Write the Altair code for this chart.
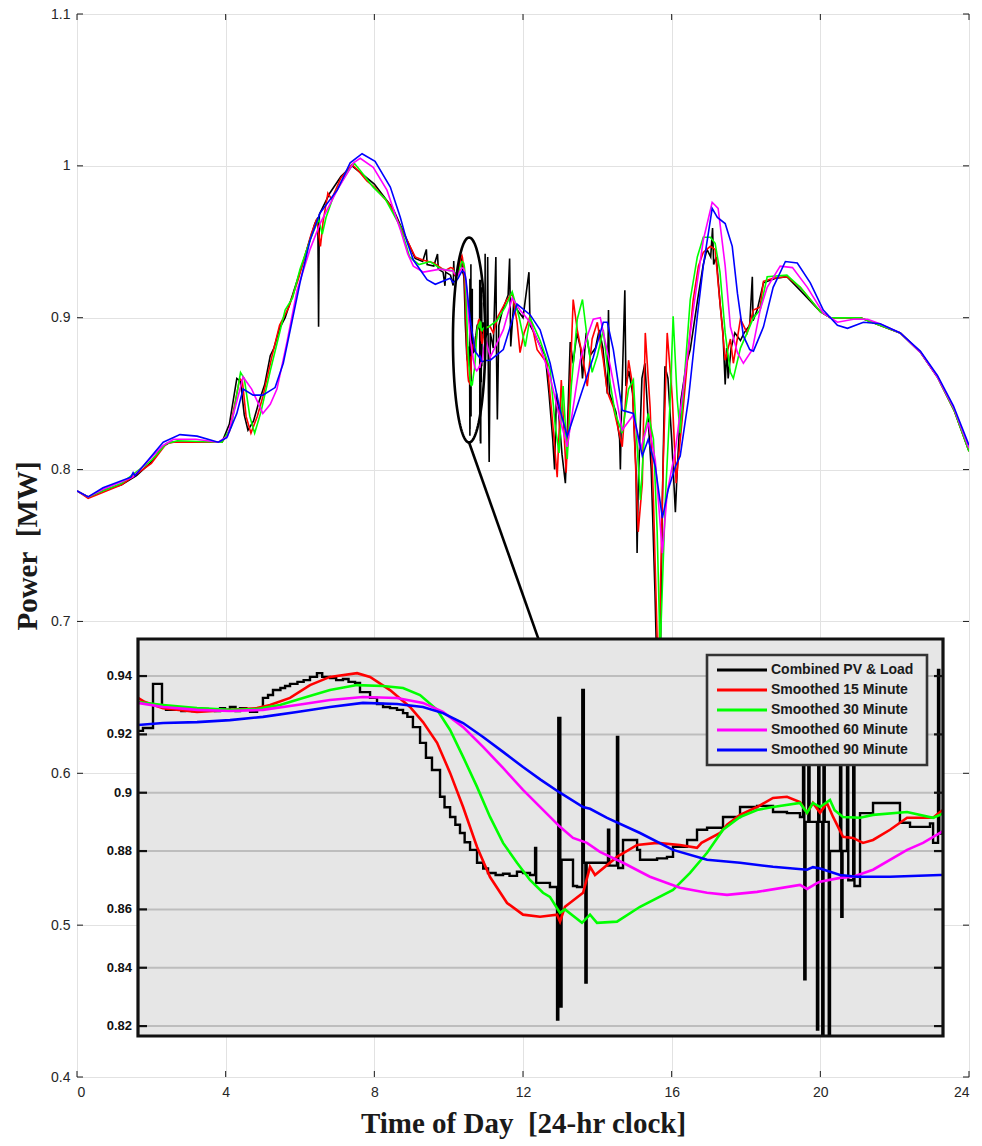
import numpy as np
import pandas as pd
import altair as alt

# ---------------------------------------------------------------- layout
W, H = 892, 1063                      # main plot area (px)
TICK_FONT = "Liberation Sans Narrow, Liberation Sans, Arial"
LABEL_FONT = "Liberation Sans, Arial"
TITLE_FONT = "Liberation Serif, Times New Roman"

SERIES = ["Combined PV & Load", "Smoothed 15 Minute", "Smoothed 30 Minute",
          "Smoothed 60 Minute", "Smoothed 90 Minute"]
COLORS = ["#000000", "#ff0000", "#00ff00", "#ff00ff", "#0000ff"]

X_TICKS = [0, 4, 8, 12, 16, 20, 24]
Y_TICKS = [0.4, 0.5, 0.6, 0.7, 0.8, 0.9, 1.0, 1.1]
INSET_TICKS = [0.82, 0.84, 0.86, 0.88, 0.90, 0.92, 0.94]

X_TITLE = "Time of Day\u00a0\u00a0[24-hr clock]"
Y_TITLE = "Power\u00a0\u00a0[MW]"

# zoomed window: minutes after ZOOM_START_HR
ZOOM_START_HR = 10.12
ZOOM_SPAN_MIN = 52
INSET_V_RANGE = [0.8166, 0.9527]
INSET_X_PX = [61, 866]                # inset box inside the plot area
INSET_Y_PX = [1022, 625]

# highlight ellipse around the zoomed window, and connector to the inset
ELLIPSE_CENTER = (10.55, 0.8853)
ELLIPSE_RADII = (0.435, 0.0675)
CONNECTOR = [(10.55, 0.8178), (12.41, 0.6888)]

# ---------------------------------------------------------------- data: full day (hours, MW)
BLACK_PRE = [(0.0, 0.786), (0.3, 0.782), (0.8, 0.787), (1.2, 0.790), (1.6, 0.796), (2.0, 0.805),
             (2.3, 0.815), (2.5, 0.818), (3.0, 0.818), (3.5, 0.818), (3.9, 0.818), (4.1, 0.830),
             (4.3, 0.860), (4.4, 0.858), (4.5, 0.836), (4.6, 0.826), (4.75, 0.832), (4.9, 0.845),
             (5.05, 0.856), (5.2, 0.875), (5.3, 0.880), (5.45, 0.893), (5.6, 0.900), (5.8, 0.915),
             (6.1, 0.938), (6.4, 0.962), (6.48, 0.966), (6.5, 0.894), (6.52, 0.968), (6.8, 0.982),
             (7.1, 0.993), (7.4, 1.000), (7.7, 0.994), (8.0, 0.988), (8.5, 0.972), (8.9, 0.950),
             (9.1, 0.939), (9.3, 0.937), (9.4, 0.945), (9.42, 0.935), (9.6, 0.934), (9.7, 0.942),
             (9.72, 0.932), (9.85, 0.930), (9.9, 0.921), (9.92, 0.930), (10.05, 0.928)]
BLACK_POST = [(10.99, 0.886), (11.03, 0.890), (11.05, 0.940), (11.07, 0.850), (11.09, 0.805),
              (11.12, 0.890), (11.2, 0.880), (11.27, 0.940), (11.29, 0.870), (11.31, 0.833),
              (11.35, 0.895), (11.45, 0.905), (11.6, 0.915), (11.64, 0.939), (11.67, 0.881),
              (11.75, 0.910), (11.85, 0.905), (12.0, 0.900), (12.16, 0.930), (12.19, 0.895),
              (12.3, 0.890), (12.45, 0.882), (12.6, 0.875), (12.7, 0.850), (12.8, 0.820),
              (12.85, 0.800), (12.9, 0.850), (12.95, 0.840), (13.05, 0.810), (13.14, 0.791),
              (13.2, 0.830), (13.27, 0.884), (13.35, 0.870), (13.45, 0.890), (13.55, 0.880),
              (13.6, 0.860), (13.7, 0.890), (13.8, 0.875), (13.95, 0.880), (14.05, 0.892),
              (14.15, 0.880), (14.27, 0.850), (14.3, 0.905), (14.33, 0.850), (14.4, 0.845),
              (14.5, 0.838), (14.6, 0.820), (14.62, 0.800), (14.65, 0.840), (14.74, 0.918),
              (14.77, 0.855), (14.85, 0.865), (14.95, 0.850), (15.04, 0.800), (15.07, 0.745),
              (15.1, 0.790), (15.2, 0.860), (15.28, 0.870), (15.35, 0.840), (15.45, 0.800),
              (15.55, 0.720), (15.6, 0.670), (15.7, 0.680), (15.75, 0.780), (15.82, 0.868),
              (15.9, 0.860), (16.0, 0.820), (16.1, 0.772), (16.15, 0.800), (16.25, 0.846),
              (16.4, 0.870), (16.5, 0.879), (16.7, 0.912), (16.85, 0.935), (16.95, 0.945),
              (17.05, 0.940), (17.1, 0.959), (17.13, 0.935), (17.2, 0.940), (17.3, 0.910),
              (17.38, 0.890), (17.44, 0.856), (17.48, 0.880), (17.52, 0.860), (17.6, 0.880),
              (17.7, 0.890), (17.85, 0.885), (17.95, 0.890), (18.1, 0.895), (18.17, 0.927),
              (18.19, 0.898), (18.3, 0.905), (18.47, 0.923), (18.8, 0.926), (19.1, 0.927),
              (19.46, 0.918), (20.0, 0.904), (20.27, 0.900), (21.08, 0.900), (21.6, 0.895),
              (22.15, 0.890), (22.7, 0.877), (23.15, 0.861), (23.6, 0.839), (24.0, 0.812)]

RED_PRE = [(0.0, 0.786), (0.3, 0.781), (1.2, 0.790), (2.0, 0.804), (2.4, 0.817), (2.6, 0.818),
           (3.9, 0.818), (4.1, 0.825), (4.38, 0.860), (4.45, 0.858), (4.55, 0.835), (4.68, 0.824),
           (4.85, 0.835), (5.0, 0.848), (5.25, 0.875), (5.45, 0.895), (5.7, 0.907), (5.95, 0.925),
           (6.3, 0.955), (6.45, 0.965), (6.55, 0.947), (6.62, 0.963), (6.75, 0.982), (6.85, 0.978),
           (7.1, 0.992), (7.4, 1.001), (7.6, 0.996), (7.8, 0.990), (8.0, 0.986), (8.4, 0.975),
           (8.8, 0.955), (9.1, 0.940), (9.3, 0.938), (9.6, 0.936), (9.9, 0.931), (10.05, 0.933)]
RED_POST = [(11.12, 0.894), (11.2, 0.890), (11.33, 0.901), (11.57, 0.912), (11.71, 0.916),
            (11.84, 0.897), (11.92, 0.877), (12.03, 0.890), (12.19, 0.901), (12.38, 0.879),
            (12.65, 0.870), (12.79, 0.833), (12.92, 0.795), (13.03, 0.859), (13.16, 0.798),
            (13.27, 0.859), (13.35, 0.912), (13.46, 0.892), (13.62, 0.872), (13.73, 0.855),
            (13.86, 0.886), (14.0, 0.897), (14.16, 0.872), (14.27, 0.851), (14.43, 0.841),
            (14.67, 0.815), (14.84, 0.872), (14.94, 0.857), (15.1, 0.759), (15.21, 0.791),
            (15.29, 0.890), (15.42, 0.841), (15.51, 0.780), (15.62, 0.680), (15.66, 0.680),
            (15.77, 0.802), (15.88, 0.890), (16.02, 0.846), (16.12, 0.791), (16.29, 0.835),
            (16.45, 0.879), (16.58, 0.912), (16.72, 0.934), (16.85, 0.943), (17.04, 0.947),
            (17.17, 0.945), (17.25, 0.923), (17.36, 0.894), (17.44, 0.872), (17.58, 0.886),
            (17.66, 0.870), (17.85, 0.899), (18.03, 0.890), (18.2, 0.905), (18.38, 0.907),
            (18.47, 0.924), (18.73, 0.926), (19.1, 0.927), (19.46, 0.920), (20.0, 0.904),
            (20.27, 0.900), (21.08, 0.900), (21.6, 0.895), (22.15, 0.890), (22.7, 0.877),
            (23.15, 0.861), (23.6, 0.839), (24.0, 0.812)]

GREEN_PRE = [(0.0, 0.786), (0.3, 0.782), (1.2, 0.791), (2.0, 0.806), (2.4, 0.817), (2.7, 0.819),
             (3.9, 0.818), (4.15, 0.828), (4.4, 0.864), (4.5, 0.860), (4.65, 0.835), (4.78, 0.824),
             (4.95, 0.838), (5.2, 0.865), (5.4, 0.885), (5.6, 0.905), (5.8, 0.913), (6.0, 0.932),
             (6.3, 0.953), (6.5, 0.965), (6.6, 0.955), (6.7, 0.966), (6.9, 0.980), (7.2, 0.993),
             (7.45, 1.002), (7.62, 0.997), (7.97, 0.986), (8.3, 0.978), (8.7, 0.960), (8.95, 0.940),
             (9.2, 0.935), (9.5, 0.937), (9.8, 0.932), (10.05, 0.931)]
GREEN_POST = [(11.07, 0.894), (11.3, 0.898), (11.52, 0.907), (11.71, 0.917), (11.9, 0.900),
              (12.06, 0.881), (12.19, 0.900), (12.46, 0.885), (12.73, 0.866), (12.87, 0.828),
              (12.97, 0.811), (13.08, 0.855), (13.19, 0.807), (13.3, 0.855), (13.46, 0.899),
              (13.6, 0.912), (13.73, 0.886), (13.86, 0.864), (14.0, 0.875), (14.16, 0.892),
              (14.27, 0.868), (14.48, 0.837), (14.67, 0.824), (14.84, 0.853), (14.97, 0.859),
              (15.05, 0.824), (15.16, 0.780), (15.27, 0.824), (15.37, 0.837), (15.51, 0.820),
              (15.61, 0.759), (15.69, 0.680), (15.83, 0.780), (15.96, 0.846), (16.04, 0.901),
              (16.15, 0.846), (16.23, 0.824), (16.36, 0.866), (16.5, 0.912), (16.69, 0.940),
              (16.85, 0.953), (17.04, 0.953), (17.17, 0.949), (17.3, 0.930), (17.44, 0.890),
              (17.58, 0.864), (17.66, 0.860), (17.85, 0.880), (18.03, 0.890), (18.2, 0.900),
              (18.38, 0.905), (18.57, 0.927), (19.1, 0.928), (19.46, 0.920), (20.0, 0.904),
              (20.27, 0.900), (21.08, 0.900), (21.6, 0.895), (22.15, 0.890), (22.7, 0.877),
              (23.15, 0.861), (23.6, 0.839), (24.0, 0.812)]

MAGENTA_PRE = [(0.0, 0.786), (0.3, 0.782), (0.7, 0.787), (1.5, 0.795), (2.32, 0.816), (2.6, 0.820),
               (3.2, 0.820), (3.8, 0.818), (4.05, 0.822), (4.3, 0.845), (4.47, 0.861), (4.7, 0.853),
               (5.0, 0.837), (5.2, 0.843), (5.38, 0.853), (5.65, 0.884), (5.92, 0.918), (6.27, 0.945),
               (6.54, 0.962), (7.0, 0.984), (7.44, 1.002), (7.62, 1.005), (7.97, 0.999), (8.34, 0.984),
               (8.7, 0.958), (8.9, 0.942), (9.05, 0.934), (9.32, 0.930), (9.77, 0.932), (10.05, 0.931)]
MAGENTA_POST = [(11.12, 0.874), (11.47, 0.892), (11.71, 0.913), (11.92, 0.905), (12.19, 0.897),
                (12.46, 0.881), (12.73, 0.861), (13.0, 0.833), (13.19, 0.815), (13.35, 0.841),
                (13.54, 0.872), (13.73, 0.888), (13.89, 0.899), (14.08, 0.900), (14.35, 0.868),
                (14.67, 0.826), (14.97, 0.836), (15.16, 0.813), (15.37, 0.831), (15.56, 0.806),
                (15.75, 0.745), (15.88, 0.785), (16.1, 0.813), (16.32, 0.855), (16.58, 0.905),
                (16.85, 0.951), (17.09, 0.976), (17.25, 0.972), (17.44, 0.934), (17.58, 0.894),
                (17.77, 0.877), (17.93, 0.870), (18.17, 0.879), (18.38, 0.905), (18.57, 0.920),
                (18.92, 0.934), (19.25, 0.933), (19.65, 0.920), (20.08, 0.903), (20.46, 0.897),
                (20.89, 0.899), (21.27, 0.899), (21.6, 0.896), (22.15, 0.890), (22.7, 0.877),
                (23.15, 0.861), (23.6, 0.840), (24.0, 0.814)]

BLUE_PRE = [(0.0, 0.786), (0.3, 0.782), (0.7, 0.788), (1.45, 0.795), (1.51, 0.798), (1.56, 0.796),
            (2.32, 0.818), (2.77, 0.823), (3.23, 0.822), (3.8, 0.818), (4.03, 0.821), (4.3, 0.837),
            (4.47, 0.853), (4.74, 0.849), (5.0, 0.849), (5.33, 0.854), (5.55, 0.870), (5.78, 0.897),
            (6.0, 0.923), (6.27, 0.951), (6.54, 0.969), (7.0, 0.984), (7.35, 1.002), (7.67, 1.008),
            (8.02, 1.003), (8.43, 0.986), (8.7, 0.966), (8.88, 0.950), (9.05, 0.938), (9.42, 0.925),
            (9.64, 0.922), (10.04, 0.926)]
BLUE_POST = [(11.12, 0.872), (11.47, 0.879), (11.84, 0.909), (12.19, 0.902), (12.46, 0.892),
             (12.73, 0.870), (13.0, 0.839), (13.19, 0.822), (13.54, 0.848), (13.89, 0.874),
             (14.16, 0.897), (14.27, 0.897), (14.43, 0.879), (14.67, 0.839), (14.97, 0.837),
             (15.21, 0.809), (15.37, 0.820), (15.56, 0.802), (15.75, 0.768), (15.91, 0.787),
             (16.1, 0.802), (16.23, 0.809), (16.45, 0.846), (16.69, 0.901), (16.85, 0.934),
             (17.09, 0.972), (17.23, 0.966), (17.44, 0.962), (17.63, 0.947), (17.77, 0.916),
             (17.93, 0.888), (18.1, 0.879), (18.2, 0.878), (18.47, 0.894), (18.73, 0.920),
             (19.06, 0.937), (19.38, 0.936), (19.73, 0.923), (20.08, 0.905), (20.46, 0.895),
             (20.73, 0.893), (21.16, 0.897), (21.61, 0.896), (22.15, 0.890), (22.69, 0.878),
             (23.15, 0.862), (23.58, 0.842), (24.0, 0.816)]

# ---------------------------------------------------------------- data: zoomed window (minutes, MW)
ZOOM_BLACK = [(0.00, 0.9212), (0.32, 0.9222), (0.97, 0.9373), (1.55, 0.9297), (1.81, 0.9284),
              (2.39, 0.9287), (2.80, 0.9280), (3.04, 0.9287), (3.50, 0.9280), (4.00, 0.9287),
              (4.50, 0.9284), (4.97, 0.9280), (5.30, 0.9290), (5.62, 0.9284), (5.94, 0.9294),
              (6.30, 0.9280), (6.59, 0.9290), (7.00, 0.9284), (7.24, 0.9277), (7.69, 0.9290),
              (8.07, 0.9325), (8.40, 0.9335), (8.72, 0.9352), (9.20, 0.9359), (9.50, 0.9366),
              (9.82, 0.9373), (10.30, 0.9380), (10.70, 0.9386), (11.11, 0.9397), (11.56, 0.9410),
              (11.90, 0.9397), (12.40, 0.9393), (12.80, 0.9386), (13.24, 0.9390), (13.60, 0.9380),
              (14.02, 0.9376), (14.34, 0.9345), (14.99, 0.9325), (15.44, 0.9304), (15.83, 0.9294),
              (16.28, 0.9290), (16.73, 0.9284), (17.12, 0.9273), (17.40, 0.9260), (17.76, 0.9225),
              (18.22, 0.9171), (18.60, 0.9120), (18.99, 0.9078), (19.51, 0.8986), (19.80, 0.8950),
              (20.16, 0.8917), (20.50, 0.8890), (20.80, 0.8862), (21.10, 0.8830), (21.45, 0.8804),
              (21.90, 0.8760), (22.30, 0.8740), (22.61, 0.8725), (23.10, 0.8718), (23.58, 0.8722),
              (24.00, 0.8715), (24.48, 0.8729), (24.87, 0.8725), (25.32, 0.8718), (25.65, 0.8811),
              (25.72, 0.8691), (26.61, 0.8677), (27.07, 0.8222), (27.15, 0.9256), (27.28, 0.8267),
              (27.36, 0.8770), (28.10, 0.8680), (28.36, 0.8677), (28.70, 0.9352), (28.80, 0.8760),
              (28.90, 0.8349), (28.98, 0.8760), (30.30, 0.8750), (30.36, 0.8873), (30.44, 0.8750),
              (30.94, 0.9191), (31.02, 0.8742), (31.33, 0.8838), (32.24, 0.8804), (32.43, 0.8770),
              (33.53, 0.8775), (34.17, 0.8780), (34.56, 0.8815), (35.47, 0.8838), (36.11, 0.8873),
              (36.76, 0.8880), (37.79, 0.8917), (38.89, 0.8951), (39.99, 0.8955), (41.02, 0.8934),
              (41.92, 0.8930), (42.76, 0.8917), (42.96, 0.9250), (43.04, 0.8360), (43.12, 0.8900),
              (43.30, 0.9200), (43.38, 0.8900), (43.86, 0.8188), (43.94, 0.9100), (44.02, 0.8900),
              (44.20, 0.8171), (44.28, 0.9250), (44.36, 0.8900), (44.62, 0.8171), (44.70, 0.8800),
              (45.35, 0.9200), (45.43, 0.8575), (45.51, 0.8800), (45.80, 0.9150), (45.88, 0.8700),
              (46.20, 0.9100), (46.28, 0.8680), (46.64, 0.8930), (47.48, 0.8965), (48.58, 0.8965),
              (49.22, 0.8897), (49.87, 0.8883), (51.16, 0.8895), (51.36, 0.8828), (51.68, 0.9421),
              (51.76, 0.8860), (52.00, 0.8860)]

ZOOM_RED = [(0.00, 0.9325), (0.45, 0.9311), (1.62, 0.9290), (3.81, 0.9277), (5.94, 0.9284),
            (7.69, 0.9290), (8.53, 0.9301), (9.82, 0.9325), (11.11, 0.9369), (12.40, 0.9397),
            (14.15, 0.9410), (14.99, 0.9397), (16.28, 0.9352), (17.57, 0.9294), (18.41, 0.9242),
            (19.32, 0.9171), (20.16, 0.9068), (21.00, 0.8951), (21.90, 0.8814), (22.74, 0.8711),
            (23.84, 0.8622), (24.87, 0.8582), (25.97, 0.8575), (27.07, 0.8582), (27.26, 0.8558),
            (27.58, 0.8609), (28.75, 0.8657), (29.20, 0.8746), (29.52, 0.8718), (30.94, 0.8780),
            (32.24, 0.8821), (33.53, 0.8828), (35.01, 0.8821), (36.11, 0.8811), (36.40, 0.8828),
            (37.60, 0.8862), (38.05, 0.8890), (38.89, 0.8924), (39.99, 0.8951), (41.02, 0.8982),
            (41.92, 0.8986), (42.76, 0.8968), (43.22, 0.8931), (43.60, 0.8965), (44.06, 0.8931),
            (44.50, 0.8965), (44.90, 0.8917), (45.54, 0.8849), (46.19, 0.8845), (46.83, 0.8828),
            (47.48, 0.8838), (48.58, 0.8873), (49.68, 0.8914), (50.71, 0.8914), (51.36, 0.8914),
            (51.81, 0.8934), (52.00, 0.8940)]

ZOOM_GREEN = [(0.00, 0.9311), (1.62, 0.9301), (3.81, 0.9290), (5.94, 0.9284), (7.69, 0.9287),
              (9.17, 0.9301), (10.66, 0.9325), (12.40, 0.9352), (14.15, 0.9369), (15.83, 0.9366),
              (17.12, 0.9359), (18.22, 0.9335), (19.32, 0.9284), (20.16, 0.9215), (21.00, 0.9123),
              (21.90, 0.9020), (22.74, 0.8917), (23.58, 0.8828), (24.48, 0.8760), (25.32, 0.8701),
              (26.16, 0.8657), (26.61, 0.8643), (27.26, 0.8588), (27.58, 0.8600), (28.68, 0.8554),
              (29.20, 0.8582), (29.65, 0.8554), (30.94, 0.8558), (32.43, 0.8609), (34.56, 0.8667),
              (35.66, 0.8725), (36.76, 0.8794), (37.79, 0.8873), (38.89, 0.8917), (39.99, 0.8941),
              (41.02, 0.8951), (42.76, 0.8965), (43.22, 0.8931), (43.60, 0.8965), (44.06, 0.8951),
              (44.70, 0.8975), (45.00, 0.8940), (45.54, 0.8917), (46.64, 0.8914), (47.48, 0.8924),
              (49.68, 0.8934), (51.36, 0.8914), (51.81, 0.8924), (52.00, 0.8930)]

ZOOM_MAGENTA = [(0.00, 0.9308), (1.62, 0.9294), (3.81, 0.9284), (5.94, 0.9280), (8.07, 0.9284),
                (10.27, 0.9301), (12.40, 0.9318), (14.53, 0.9328), (16.73, 0.9325), (18.41, 0.9308),
                (19.70, 0.9277), (21.00, 0.9225), (22.29, 0.9157), (23.58, 0.9085), (24.87, 0.9010),
                (26.00, 0.8950), (27.26, 0.8883), (28.10, 0.8845), (29.00, 0.8828), (29.84, 0.8797),
                (31.33, 0.8760), (33.07, 0.8712), (35.01, 0.8674), (36.76, 0.8657), (38.05, 0.8650),
                (39.99, 0.8660), (42.76, 0.8684), (43.22, 0.8670), (43.86, 0.8690), (44.06, 0.8695),
                (45.35, 0.8708), (46.19, 0.8712), (47.48, 0.8736), (49.68, 0.8804), (50.71, 0.8828),
                (51.81, 0.8862), (52.00, 0.8868)]

ZOOM_BLUE = [(0.00, 0.9232), (1.62, 0.9239), (3.81, 0.9242), (5.94, 0.9249), (8.07, 0.9260),
             (10.27, 0.9277), (12.40, 0.9294), (14.53, 0.9308), (16.73, 0.9304), (18.41, 0.9294),
             (19.70, 0.9273), (21.00, 0.9239), (22.29, 0.9191), (23.58, 0.9140), (24.87, 0.9088),
             (26.00, 0.9045), (27.26, 0.9000), (28.75, 0.8951), (29.20, 0.8945), (30.30, 0.8914),
             (32.43, 0.8862), (34.56, 0.8804), (36.76, 0.8770), (38.89, 0.8760), (41.02, 0.8746),
             (43.22, 0.8736), (43.60, 0.8745), (44.06, 0.8740), (45.35, 0.8718), (46.45, 0.8712),
             (48.58, 0.8712), (51.81, 0.8718), (52.00, 0.8718)]

PRE = [BLACK_PRE, RED_PRE, GREEN_PRE, MAGENTA_PRE, BLUE_PRE]
ZOOM = [ZOOM_BLACK, ZOOM_RED, ZOOM_GREEN, ZOOM_MAGENTA, ZOOM_BLUE]
POST = [BLACK_POST, RED_POST, GREEN_POST, MAGENTA_POST, BLUE_POST]


def day_frame(pre, zoom, post):
    """Full-day series: zoom-window minutes converted to hours of day."""
    pts = list(pre) + [(ZOOM_START_HR + m / 60.0, v) for m, v in zoom] + list(post)
    df = pd.DataFrame(pts, columns=["t", "v"])
    df["i"] = np.arange(len(df))
    return df


def zoom_frame(zoom):
    df = pd.DataFrame(zoom, columns=["m", "iv"])
    df["i"] = np.arange(len(df))
    return df


# ---------------------------------------------------------------- main axes
x_main = alt.X(
    "t:Q",
    scale=alt.Scale(domain=[0, 24], nice=False, zero=False),
    axis=alt.Axis(values=X_TICKS, format="d", title=X_TITLE,
                  grid=True, gridColor="#e2e2e2", gridWidth=1, domain=False, ticks=False,
                  labelFont=TICK_FONT, labelFontSize=14, labelColor="#262626", labelPadding=8,
                  titleFont=TITLE_FONT, titleFontSize=29, titleFontWeight="bold",
                  titleColor="#1a1a1a", titlePadding=10),
)
y_main = alt.Y(
    "v:Q",
    scale=alt.Scale(domain=[0.4, 1.1], nice=False, zero=False),
    axis=alt.Axis(values=Y_TICKS, format="~g", title=Y_TITLE,
                  grid=True, gridColor="#e2e2e2", gridWidth=1, domain=False, ticks=False,
                  labelFont=TICK_FONT, labelFontSize=14, labelColor="#262626", labelPadding=7,
                  titleFont=TITLE_FONT, titleFontSize=29, titleFontWeight="bold",
                  titleColor="#1a1a1a", titlePadding=8),
)

main_layers = []
for k in range(len(SERIES)):
    df = day_frame(PRE[k], ZOOM[k], POST[k])
    main_layers.append(
        alt.Chart(df).mark_line(color=COLORS[k], strokeWidth=1.6, clip=True)
        .encode(x=x_main, y=y_main, order=alt.Order("i:Q"))
    )

# inward tick marks on all four sides of the frame
xt = pd.DataFrame({"t": X_TICKS})
yt = pd.DataFrame({"v": Y_TICKS})
tick_style = dict(color="#1a1a1a", strokeWidth=1)
ticks = [
    alt.Chart(xt).mark_rule(**tick_style).encode(x=x_main, y=alt.value(H), y2=alt.value(H - 6)),
    alt.Chart(xt).mark_rule(**tick_style).encode(x=x_main, y=alt.value(0), y2=alt.value(6)),
    alt.Chart(yt).mark_rule(**tick_style).encode(y=y_main, x=alt.value(0), x2=alt.value(6)),
    alt.Chart(yt).mark_rule(**tick_style).encode(y=y_main, x=alt.value(W), x2=alt.value(W - 6)),
]

# ellipse marking the zoomed window
theta = np.linspace(0, 2 * np.pi, 121)
ell = pd.DataFrame({
    "t": ELLIPSE_CENTER[0] + ELLIPSE_RADII[0] * np.cos(theta),
    "v": ELLIPSE_CENTER[1] + ELLIPSE_RADII[1] * np.sin(theta),
    "i": np.arange(len(theta)),
})
ellipse = alt.Chart(ell).mark_line(color="black", strokeWidth=2.6).encode(
    x=x_main, y=y_main, order=alt.Order("i:Q"))

conn = pd.DataFrame(CONNECTOR, columns=["t", "v"])
connector = alt.Chart(conn).mark_line(color="black", strokeWidth=2.6).encode(x=x_main, y=y_main)

main = alt.layer(*ticks, *main_layers, ellipse, connector)

# ---------------------------------------------------------------- inset
x_in_scale = alt.Scale(domain=[0, ZOOM_SPAN_MIN], range=INSET_X_PX, nice=False, zero=False)
y_in_scale = alt.Scale(domain=INSET_V_RANGE, range=INSET_Y_PX, nice=False, zero=False)
x_in = alt.X("m:Q", scale=x_in_scale, axis=None)
y_in = alt.Y("iv:Q", scale=y_in_scale, axis=None)

box_df = pd.DataFrame({"m": [0], "m1": [ZOOM_SPAN_MIN],
                       "iv": [INSET_V_RANGE[0]], "iv1": [INSET_V_RANGE[1]]})
inset_bg = alt.Chart(box_df).mark_rect(fill="#e6e6e6").encode(
    x=x_in, x2=alt.X2("m1:Q"), y=y_in, y2=alt.Y2("iv1:Q"))
inset_frame = alt.Chart(box_df).mark_rect(fill=None, stroke="#111111", strokeWidth=3.2).encode(
    x=x_in, x2=alt.X2("m1:Q"), y=y_in, y2=alt.Y2("iv1:Q"))

grid_df = pd.DataFrame({"iv": INSET_TICKS, "m": 0.0, "m1": float(ZOOM_SPAN_MIN)})
inset_grid = alt.Chart(grid_df).mark_rule(color="#bdbdbd", strokeWidth=2).encode(
    y=y_in, x=x_in, x2=alt.X2("m1:Q"))
inset_tick_l = alt.Chart(grid_df).mark_rule(color="#111111", strokeWidth=2.2).encode(
    y=y_in, x=alt.value(INSET_X_PX[0]), x2=alt.value(INSET_X_PX[0] + 9))
inset_tick_r = alt.Chart(grid_df).mark_rule(color="#111111", strokeWidth=2.2).encode(
    y=y_in, x=alt.value(INSET_X_PX[1] - 9), x2=alt.value(INSET_X_PX[1]))
inset_labels = alt.Chart(grid_df).mark_text(
    align="right", baseline="middle", font=LABEL_FONT, fontWeight="bold",
    fontSize=13, color="#111111").encode(
    y=y_in, x=alt.value(INSET_X_PX[0] - 6), text=alt.Text("iv:Q", format="~g"))

inset_lines = []
for k in range(len(SERIES)):
    df = zoom_frame(ZOOM[k])
    interp = "step-after" if k == 0 else "linear"
    width = 2.4 if k == 0 else 2.6
    inset_lines.append(
        alt.Chart(df).mark_line(color=COLORS[k], strokeWidth=width, interpolate=interp)
        .encode(x=x_in, y=y_in, order=alt.Order("i:Q"))
    )

inset = alt.layer(inset_bg, inset_grid, *inset_lines, inset_tick_l, inset_tick_r,
                  inset_labels, inset_frame)

# ---------------------------------------------------------------- legend inside the inset
leg_df = pd.DataFrame({"series": SERIES, "row": np.arange(len(SERIES))})
y_leg = alt.Y("row:Q", scale=alt.Scale(domain=[0, len(SERIES) - 1], range=[656, 736]), axis=None)
color_enc = alt.Color("series:N", scale=alt.Scale(domain=SERIES, range=COLORS), legend=None)

leg_box = alt.Chart(pd.DataFrame({"row": [0]})).mark_rect(
    fill="#e6e6e6", stroke="#333333", strokeWidth=2.6).encode(
    x=alt.value(630), x2=alt.value(850), y=alt.value(641), y2=alt.value(751))
leg_lines = alt.Chart(leg_df).mark_rule(strokeWidth=3).encode(
    x=alt.value(640), x2=alt.value(690), y=y_leg, color=color_enc)
leg_text = alt.Chart(leg_df).mark_text(
    align="left", baseline="middle", font=LABEL_FONT, fontWeight="bold",
    fontSize=14, color="#1a1a1a").encode(x=alt.value(694), y=y_leg, text="series:N")

legend = alt.layer(leg_box, leg_lines, leg_text)

# ---------------------------------------------------------------- compose
chart = (
    alt.layer(main, inset, legend)
    .resolve_scale(x="independent", y="independent")
    .properties(width=W, height=H,
                autosize=alt.AutoSizeParams(type="none"),
                padding={"left": 77, "top": 14, "right": 13, "bottom": 69})
    .configure_view(stroke="#1a1a1a", strokeWidth=1.2)
    .configure(background="white")
)

chart.save("out.html", embed_options={"renderer": "svg", "actions": False})
